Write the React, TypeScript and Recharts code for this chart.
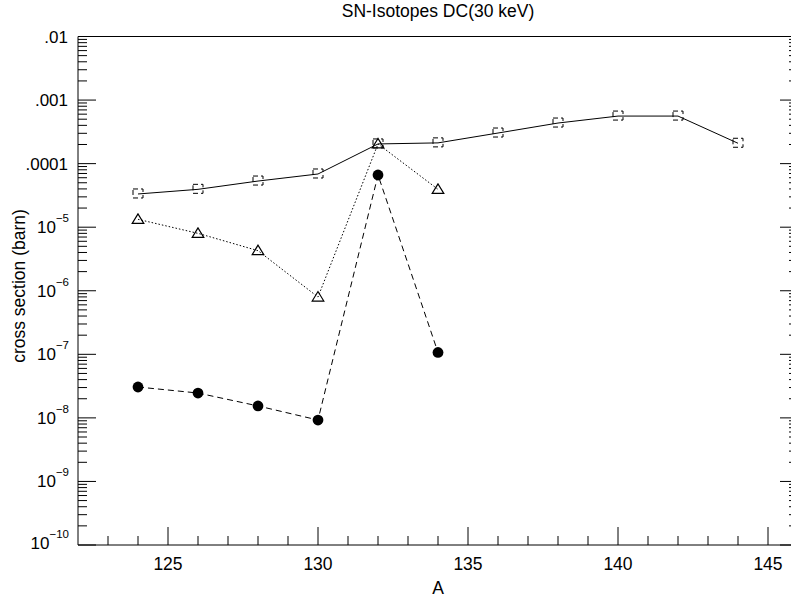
import React from 'react';
import { LineChart, Line, XAxis, YAxis } from 'recharts';

// Mass numbers (A) for each series
const squareA = [124, 126, 128, 130, 132, 134, 136, 138, 140, 142, 144];
const triangleA = [124, 126, 128, 130, 132, 134];
const circleA = [124, 126, 128, 130, 132, 134];

// Cross sections (barn)
const squareValues = [3.33e-5, 3.94e-5, 5.32e-5, 6.87e-5, 2.04e-4, 2.12e-4, 3.03e-4, 4.35e-4, 5.6e-4, 5.6e-4, 2.09e-4];
const triangleValues = [1.33e-5, 8.0e-6, 4.27e-6, 7.96e-7, 2.04e-4, 3.94e-5];
const circleValues = [3.06e-8, 2.46e-8, 1.54e-8, 9.25e-9, 6.62e-5, 1.07e-7];

// Axis ticks
const xTicks = [123, 124, 125, 126, 127, 128, 129, 130, 131, 132, 133, 134, 135, 136, 137, 138, 139, 140, 141, 142, 143, 144, 145];
const xMajorTicks = [125, 130, 135, 140, 145];
const yDecades = [-10, -9, -8, -7, -6, -5, -4, -3, -2];
const yMinorFactors = [2, 3, 4, 5, 6, 7, 8, 9];
const yTicks: number[] = [];
yDecades.forEach((e) => {
  yTicks.push(Math.pow(10, e));
  if (e < -2) yMinorFactors.forEach((k) => yTicks.push(k * Math.pow(10, e)));
});
const yPlainLabels: Record<number, string> = { [-2]: '.01', [-3]: '.001', [-4]: '.0001' };

const squareData = squareA.map((a, i) => ({ A: a, v: squareValues[i] }));
const triangleData = triangleA.map((a, i) => ({ A: a, v: triangleValues[i] }));
const circleData = circleA.map((a, i) => ({ A: a, v: circleValues[i] }));

const FONT = '"Liberation Sans", Arial, Helvetica, sans-serif';
const MAJOR = 18;
const MINOR = 9;

const decadeOf = (v: number) => {
  const e = Math.round(Math.log10(v));
  const major = Math.abs(v - Math.pow(10, e)) / v < 1e-6;
  return { e, major };
};

const YTickLeft = (props: any) => {
  const { x, y, payload } = props;
  const { e, major } = decadeOf(payload.value);
  const len = major ? MAJOR : MINOR;
  return (
    <g>
      <line x1={x} y1={y} x2={x + len} y2={y} stroke="#000" strokeWidth={1} />
      {major && yPlainLabels[e] !== undefined && (
        <text x={x - 10} y={y + 6} textAnchor="end" fontSize={17} fontFamily={FONT} fill="#000">
          {yPlainLabels[e]}
        </text>
      )}
      {major && yPlainLabels[e] === undefined && (
        <text x={x - 9} y={y + (e === -10 ? 4 : 6)} textAnchor="end" fontSize={17} fontFamily={FONT} fill="#000">
          10
          <tspan dy={-11} fontSize={11.5}>{`\u2212${-e}`}</tspan>
        </text>
      )}
    </g>
  );
};

const YTickRight = (props: any) => {
  const { x, y, payload } = props;
  const { major } = decadeOf(payload.value);
  const len = major ? MAJOR : MINOR;
  return <line x1={x - len} y1={y} x2={x} y2={y} stroke="#000" strokeWidth={1} />;
};

const XTickBottom = (props: any) => {
  const { x, y, payload } = props;
  const major = xMajorTicks.includes(payload.value);
  const len = major ? MAJOR : MINOR;
  return (
    <g>
      <line x1={x} y1={y} x2={x} y2={y - len} stroke="#000" strokeWidth={1} />
      {major && (
        <text x={x} y={y + 25} textAnchor="middle" fontSize={17.5} fontFamily={FONT} fill="#000">
          {payload.value}
        </text>
      )}
    </g>
  );
};

const XTickTop = (props: any) => {
  const { x, y, payload } = props;
  const major = xMajorTicks.includes(payload.value);
  const len = major ? MAJOR : MINOR;
  return <line x1={x} y1={y} x2={x} y2={y + len} stroke="#000" strokeWidth={1} />;
};

const SquareDot = (p: any) => {
  if (p.cx == null || p.cy == null) return <g key={p.index} />;
  return (
    <rect
      key={p.index}
      x={p.cx - 5}
      y={p.cy - 5}
      width={10}
      height={9}
      fill="none"
      stroke="#000"
      strokeWidth={1}
      strokeDasharray="5 3"
    />
  );
};

const TriangleDot = (p: any) => {
  if (p.cx == null || p.cy == null) return <g key={p.index} />;
  const { cx, cy } = p;
  return (
    <polygon
      key={p.index}
      points={`${cx},${cy - 5.5} ${cx - 5.8},${cy + 4} ${cx + 5.8},${cy + 4}`}
      fill="none"
      stroke="#000"
      strokeWidth={1.2}
    />
  );
};

const CircleDot = (p: any) => {
  if (p.cx == null || p.cy == null) return <g key={p.index} />;
  return <circle key={p.index} cx={p.cx} cy={p.cy} r={5.4} fill="#000" stroke="none" />;
};

export default function App() {
  const axisLine = { stroke: '#000', strokeWidth: 1 };
  return (
    <div style={{ position: 'absolute', left: 0, top: 0, width: 791, height: 601, overflow: 'hidden', background: '#fff' }}>
      <LineChart width={810} height={601} margin={{ top: 26.5, right: 2, left: 38, bottom: 26 }}>
        <XAxis
          dataKey="A"
          type="number"
          domain={[122, 146]}
          allowDataOverflow
          ticks={xTicks}
          interval={0}
          height={30}
          tickSize={0}
          tickMargin={0}
          axisLine={axisLine}
          tickLine={false}
          tick={<XTickBottom />}
        />
        <XAxis
          xAxisId="top"
          orientation="top"
          type="number"
          domain={[122, 146]}
          allowDataOverflow
          ticks={xTicks}
          interval={0}
          height={10}
          tickSize={0}
          tickMargin={0}
          axisLine={axisLine}
          tickLine={false}
          tick={<XTickTop />}
        />
        <YAxis
          type="number"
          scale="log"
          domain={[1e-10, 1e-2]}
          allowDataOverflow
          ticks={yTicks}
          interval={0}
          width={40}
          tickSize={0}
          tickMargin={0}
          axisLine={axisLine}
          tickLine={false}
          tick={<YTickLeft />}
        />
        <YAxis
          yAxisId="right"
          orientation="right"
          type="number"
          scale="log"
          domain={[1e-10, 1e-2]}
          allowDataOverflow
          ticks={yTicks}
          interval={0}
          width={10}
          tickSize={0}
          tickMargin={0}
          axisLine={axisLine}
          tickLine={false}
          tick={<YTickRight />}
        />
        <Line
          data={squareData}
          dataKey="v"
          type="linear"
          stroke="#000"
          strokeWidth={1}
          dot={SquareDot}
          activeDot={false}
          isAnimationActive={false}
        />
        <Line
          data={triangleData}
          dataKey="v"
          type="linear"
          stroke="#000"
          strokeWidth={1}
          strokeDasharray="1.5 2"
          dot={TriangleDot}
          activeDot={false}
          isAnimationActive={false}
        />
        <Line
          data={circleData}
          dataKey="v"
          type="linear"
          stroke="#000"
          strokeWidth={1}
          strokeDasharray="6 4"
          dot={CircleDot}
          activeDot={false}
          isAnimationActive={false}
        />
        <text x={438} y={17} textAnchor="middle" fontSize={17.5} fontFamily={FONT} fill="#000">
          SN-Isotopes DC(30 keV)
        </text>
        <text x={438} y={594} textAnchor="middle" fontSize={17.5} fontFamily={FONT} fill="#000">
          A
        </text>
        <text
          x={25}
          y={286}
          textAnchor="middle"
          fontSize={17.5}
          fontFamily={FONT}
          fill="#000"
          transform="rotate(-90, 25, 286)"
        >
          cross section (barn)
        </text>
      </LineChart>
    </div>
  );
}
